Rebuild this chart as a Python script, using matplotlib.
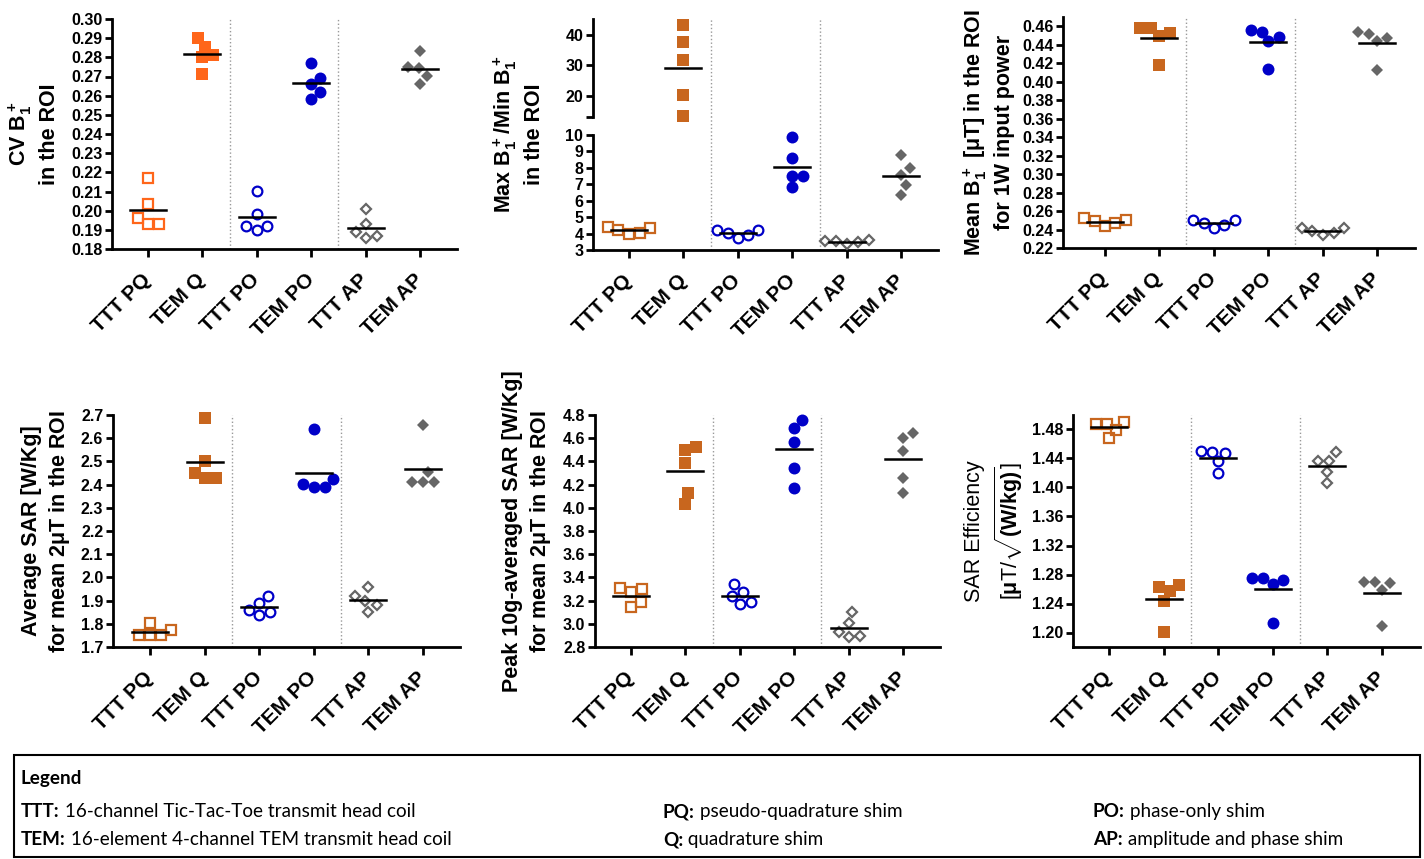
import numpy as np
import matplotlib.pyplot as plt
from matplotlib.patches import Rectangle
from matplotlib.ticker import FormatStrFormatter

plt.rcParams['font.family'] = ['Liberation Sans', 'DejaVu Sans']
plt.rcParams['font.weight'] = 'bold'
plt.rcParams['mathtext.fontset'] = 'custom'
plt.rcParams['mathtext.default'] = 'rm'
plt.rcParams['mathtext.rm'] = 'Liberation Sans:bold'
plt.rcParams['mathtext.bf'] = 'Liberation Sans:bold'

groups = ['TTT PQ', 'TEM Q', 'TTT PO', 'TEM PO', 'TTT AP', 'TEM AP']

cv_b1 = [[0.217, 0.2035, 0.196, 0.193, 0.193],
         [0.2903, 0.2856, 0.2812, 0.280, 0.2711],
         [0.2103, 0.1983, 0.1922, 0.1899, 0.1922],
         [0.2772, 0.2694, 0.2659, 0.2621, 0.2583],
         [0.201, 0.193, 0.189, 0.187, 0.186],
         [0.2833, 0.2743, 0.2751, 0.2703, 0.2659]]

max_min_b1 = [[4.4, 4.2, 4.0, 4.05, 4.35],
              [43.3, 37.6, 31.9, 20.1, 13.3],
              [4.22, 4.01, 3.71, 3.91, 4.22],
              [9.90, 8.62, 7.52, 7.52, 6.81],
              [3.6, 3.55, 3.5, 3.35, 3.55],
              [8.78, 7.97, 7.56, 6.96, 6.35]]

mean_b1 = [[0.2524, 0.2488, 0.2434, 0.247, 0.2506],
           [0.4582, 0.4582, 0.4528, 0.4499, 0.4185],
           [0.2506, 0.247, 0.2416, 0.2452, 0.2499],
           [0.4564, 0.4539, 0.4484, 0.4438, 0.4138],
           [0.2416, 0.2416, 0.238, 0.2344, 0.2362],
           [0.4539, 0.4521, 0.4474, 0.4438, 0.4124]]

avg_sar = [[1.804, 1.751, 1.751, 1.751, 1.772],
           [2.687, 2.502, 2.451, 2.427, 2.427],
           [1.92, 1.89, 1.86, 1.85, 1.84],
           [2.639, 2.423, 2.401, 2.391, 2.391],
           [1.960, 1.920, 1.898, 1.881, 1.852],
           [2.658, 2.454, 2.411, 2.411, 2.411]]

peak_sar = [[3.297, 3.277, 3.306, 3.190, 3.147],
            [4.520, 4.499, 4.384, 4.129, 4.037],
            [3.340, 3.277, 3.242, 3.190, 3.170],
            [4.757, 4.687, 4.569, 4.346, 4.173],
            [3.098, 3.008, 2.930, 2.893, 2.887],
            [4.641, 4.598, 4.491, 4.257, 4.124]]

sar_eff = [[1.491, 1.488, 1.488, 1.480, 1.468],
           [1.265, 1.263, 1.257, 1.244, 1.201],
           [1.451, 1.449, 1.448, 1.436, 1.420],
           [1.275, 1.275, 1.272, 1.267, 1.213],
           [1.449, 1.437, 1.437, 1.422, 1.406],
           [1.270, 1.270, 1.268, 1.258, 1.209]]

legend_rows = [[('TTT:', ' 16-channel Tic-Tac-Toe transmit head coil'),
                ('PQ:', ' pseudo-quadrature shim'),
                ('PO:', ' phase-only shim')],
               [('TEM:', ' 16-element 4-channel TEM transmit head coil'),
                ('Q:', ' quadrature shim'),
                ('AP:', ' amplitude and phase shim')]]

ORANGE = '#C8661E'
ORANGE1 = '#FF661A'
BLUE = '#0000C8'
GRAY = '#666666'

markers = ['s', 's', 'o', 'o', 'D', 'D']
filled = [False, True, False, True, False, True]
ms_open = {'s': 7.5, 'o': 7.0, 'D': 5.5}
ms_full = {'s': 8.8, 'o': 8.6, 'D': 6.6}

W, H = 1424, 859
fig = plt.figure(figsize=(W / 100, H / 100), dpi=100)


def add_ax(l, t, r, b):
    return fig.add_axes([l / W, 1 - b / H, (r - l) / W, (b - t) / H])


def style_ax(ax, xlim, ylim, yticks, fmt, labels=True):
    ax.spines['top'].set_visible(False)
    ax.spines['right'].set_visible(False)
    ax.spines['left'].set_linewidth(2)
    ax.spines['bottom'].set_linewidth(2)
    ax.set_xlim(*xlim)
    ax.set_ylim(*ylim)
    ax.set_yticks(yticks)
    if fmt:
        ax.yaxis.set_major_formatter(FormatStrFormatter(fmt))
    ax.tick_params(axis='y', width=2, length=5, labelsize=11.5, pad=2)
    ax.tick_params(axis='x', width=2, length=6, pad=14)
    ax.set_xticks(range(len(groups)))
    if labels:
        ax.set_xticklabels(groups, rotation=45, ha='right', va='center',
                           rotation_mode='anchor', fontsize=15, fontweight='bold')


def swarm(ax, y, size_px=11.0):
    # spread points sideways so they don't overlap, a bit like Prism
    ypix = ax.transData.transform(np.column_stack([np.zeros(len(y)), y]))[:, 1]
    steps = np.arange(0, 4 * size_px, 0.5)
    cand = sorted(np.concatenate([steps, -steps[1:]]), key=abs)
    placed = []
    offs = np.zeros(len(y))
    for i in np.argsort(ypix):
        for c in cand:
            if all((c - px) ** 2 + (ypix[i] - py) ** 2 >= size_px ** 2 for px, py in placed):
                break
        offs[i] = c
        placed.append((c, ypix[i]))
    x0 = ax.transData.transform([(0, 0), (1, 0)])
    return offs / (x0[1, 0] - x0[0, 0])


def draw_group(ax, gi, vals, color):
    vals = np.array(vals)
    x = gi + swarm(ax, vals)
    m = markers[gi]
    if filled[gi]:
        ax.plot(x, vals, ls='none', marker=m, ms=ms_full[m], mfc=color, mec=color,
                mew=0, clip_on=False, zorder=3)
    else:
        ax.plot(x, vals, ls='none', marker=m, ms=ms_open[m], mfc='none', mec=color,
                mew=1.6, clip_on=False, zorder=3)
    mean = vals.mean()
    ax.plot([gi - 0.33, gi + 0.33], [mean, mean], color='black', lw=1.8, zorder=4,
            clip_on=False)


def separators(ax, ymax=1.0):
    for xv in [1.5, 3.5]:
        ax.axvline(xv, ymin=0, ymax=ymax, color='#999999', ls=':', lw=1, zorder=1,
                   clip_on=False)


def group_colors(first_orange):
    return [first_orange, first_orange, BLUE, BLUE, GRAY, GRAY]


def set_label(ax, text, right_px, width_px, weight='bold', cy=0.5):
    ax.set_ylabel(text, fontsize=15.5, fontweight=weight, linespacing=1.3)
    ax.yaxis.set_label_coords(-right_px / width_px, cy)


def simple_panel(box, data, xlim, ylim, yticks, fmt, label, label_off,
                 first_orange=ORANGE, weight='bold'):
    ax = add_ax(*box)
    style_ax(ax, xlim, ylim, yticks, fmt)
    cols = group_colors(first_orange)
    for gi, vals in enumerate(data):
        draw_group(ax, gi, vals, cols[gi])
    separators(ax)
    set_label(ax, label, label_off, box[2] - box[0], weight)
    return ax


# top row
simple_panel((112, 19, 457, 249), cv_b1, (-0.66, 5.68), (0.18, 0.30),
             np.arange(0.18, 0.3001, 0.01), '%.2f',
             'CV B$_1^+$\nin the ROI', 52, first_orange=ORANGE1)

# broken axis panel
ax_top = add_ax(593, 19, 938, 117)
ax_bot = add_ax(593, 135, 938, 250)
style_ax(ax_bot, (-0.66, 5.67), (3, 10), range(3, 11), None)
style_ax(ax_top, (-0.66, 5.67), (13, 45.3), [13, 20, 30, 40], None, labels=False)
ax_top.set_yticklabels(['', '20', '30', '40'])
ax_top.spines['bottom'].set_visible(False)
ax_top.tick_params(axis='x', length=0, labelbottom=False)
cols = group_colors(ORANGE)
for gi, vals in enumerate(max_min_b1):
    draw_group(ax_top if gi == 1 else ax_bot, gi, vals, cols[gi])
separators(ax_top)
separators(ax_bot, ymax=1 + 18 / 115)
ax_bot.set_ylabel('Max B$_1^+$/Min B$_1^+$\nin the ROI', fontsize=15.5,
                  fontweight='bold', linespacing=1.3)
ax_bot.yaxis.set_label_coords(-48 / 345, (250 - 134) / 115)

simple_panel((1063, 17, 1415, 248), mean_b1, (-0.77, 5.7), (0.22, 0.47),
             np.arange(0.22, 0.4601, 0.02), '%.2f',
             'Mean B$_1^+$ [$\\mu$T] in the ROI\nfor 1W input power', 48)

# bottom row
simple_panel((113, 415, 460, 647), avg_sar, (-0.68, 5.68), (1.7, 2.7),
             np.arange(1.7, 2.7001, 0.1), '%.1f',
             'Average SAR [W/Kg]\nfor mean 2$\\mu$T in the ROI', 41)

simple_panel((595, 415, 940, 647), peak_sar, (-0.66, 5.68), (2.8, 4.8),
             np.arange(2.8, 4.8001, 0.2), '%.1f',
             'Peak 10g-averaged SAR [W/Kg]\nfor mean 2$\\mu$T in the ROI', 42)

simple_panel((1073, 415, 1420, 647), sar_eff, (-0.66, 5.7), (1.18, 1.50),
             np.arange(1.20, 1.4801, 0.04), '%.2f',
             'SAR Efficiency\n[$\\mu$T/$\\sqrt{\\mathrm{(W/kg)}}$]', 48, weight='normal')

# legend box at the bottom
fig.patches.append(Rectangle((14 / W, 1 - 857 / H), (1420 - 14) / W, (857 - 755) / H,
                             transform=fig.transFigure, fill=False, ec='black', lw=1.5))
lfont = dict(family=['Lato', 'DejaVu Sans'], fontsize=13.6)
fig.text(21 / W, 1 - 784 / H, 'Legend', fontweight='bold', va='baseline', **lfont)
renderer = fig.canvas.get_renderer()
col_x = [21, 663, 1093]
row_y = [817, 845]
for row, yb in zip(legend_rows, row_y):
    for (key, desc), xc in zip(row, col_x):
        t = fig.text(xc / W, 1 - yb / H, key, fontweight='bold', va='baseline', **lfont)
        wpx = t.get_window_extent(renderer=renderer).width
        fig.text((xc + wpx) / W, 1 - yb / H, desc, fontweight='normal', va='baseline',
                 **lfont)

fig.savefig('out.png', dpi=100)
